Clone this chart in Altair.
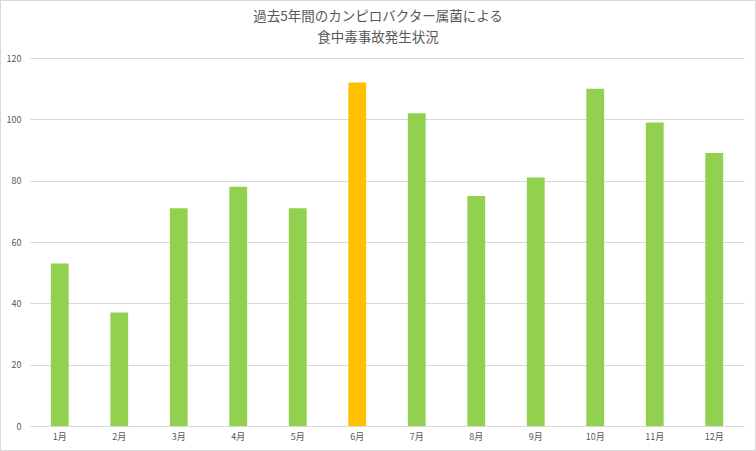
import altair as alt
import pandas as pd

# Monthly campylobacter food-poisoning incidents (5-year total)
months = ["1月", "2月", "3月", "4月", "5月", "6月", "7月", "8月", "9月", "10月", "11月", "12月"]
counts = [53, 37, 71, 78, 71, 112, 102, 75, 81, 110, 99, 89]
peak_month = "6月"
title_lines = ["過去5年間のカンピロバクター属菌による", "食中毒事故発生状況"]

df = pd.DataFrame({"month": months, "count": counts})
df["peak"] = df["month"] == peak_month

FONT = "Noto Sans CJK JP"
W, H = 714, 368
PAD = {"left": 30, "top": 58, "right": 12, "bottom": 25}

bars = alt.Chart(df).mark_bar().encode(
    x=alt.X("month:N", sort=months, title=None,
            scale=alt.Scale(paddingInner=0.7, paddingOuter=0.35),
            axis=alt.Axis(labelAngle=0, ticks=False, domainColor="#D9D9D9",
                          labelColor="#595959", labelFont=FONT, labelFontSize=9,
                          labelPadding=6, grid=False)),
    y=alt.Y("count:Q", title=None,
            scale=alt.Scale(domain=[0, 120], nice=False),
            axis=alt.Axis(values=[0, 20, 40, 60, 80, 100, 120], domain=False, ticks=False,
                          gridColor="#D9D9D9", labelColor="#595959", labelFont=FONT,
                          labelFontSize=9, labelPadding=9)),
    color=alt.Color("peak:N", legend=None,
                    scale=alt.Scale(domain=[False, True], range=["#92D050", "#FFC000"])),
)

# two-line chart title, centred on the whole chart
title_x = (W + PAD["left"] + PAD["right"]) / 2 - PAD["left"]
title_layers = [
    alt.Chart(pd.DataFrame({"line": [text]})).mark_text(
        font=FONT, fontSize=13.5, color="#595959", baseline="middle", align="center", clip=False,
    ).encode(text="line:N", x=alt.value(title_x), y=alt.value(y))
    for text, y in zip(title_lines, [-41, -20])
]

# thin frame around the whole chart
frame = alt.Chart(df).mark_rect(fill=None, stroke="#D9D9D9", strokeWidth=1, clip=False).encode(
    x=alt.value(-PAD["left"] + 0.5), x2=alt.value(W + PAD["right"] - 0.5),
    y=alt.value(-PAD["top"] + 0.5), y2=alt.value(H + PAD["bottom"] - 0.5),
)

chart = alt.layer(bars, *title_layers, frame).properties(
    width=W, height=H,
    autosize=alt.AutoSizeParams(type="none"),
    padding=PAD,
).configure(background="white").configure_view(stroke=None, strokeWidth=0)

chart.save("out.html", embed_options={"renderer": "svg", "actions": False})
